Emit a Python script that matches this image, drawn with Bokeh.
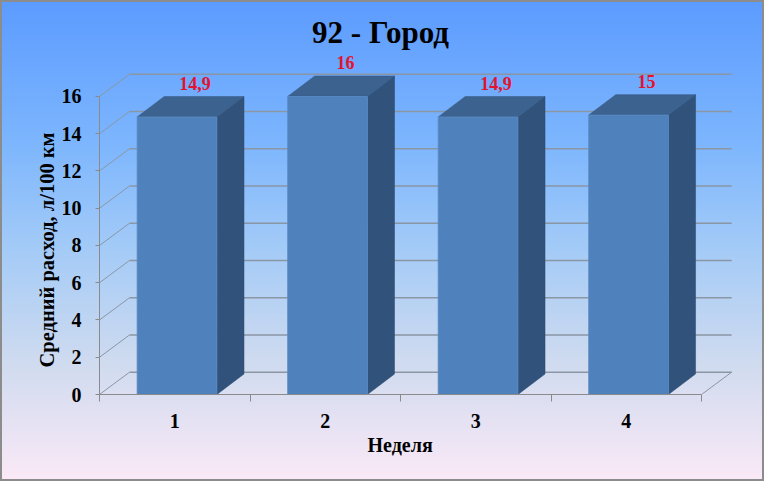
from bokeh.plotting import figure
from bokeh.models import Range1d, FixedTicker, Label, Title
from bokeh.embed import file_html
from bokeh.resources import INLINE

weeks = ["1", "2", "3", "4"]
fuel = [14.9, 16.0, 14.9, 15.0]
y_ticks = [0, 2, 4, 6, 8, 10, 12, 14, 16]

FONT = "Liberation Serif"
GRID = "#8a96a4"

# depth of the 3d effect, in data units
wall_dx, wall_dy = 0.2, 1.2
bar_dx, bar_dy = 0.18, 1.1
bar_w = 0.53

p = figure(width=764, height=481, output_backend="svg", toolbar_location=None,
           title=None, x_range=Range1d(0, 4.365), y_range=Range1d(0, 21.154),
           min_border_left=99, min_border_right=8, min_border_top=0, min_border_bottom=87)
p.border_fill_color = None
p.background_fill_color = None
p.outline_line_color = None
p.xgrid.visible = False
p.ygrid.visible = False
p.styles = {
    "background": "linear-gradient(to bottom, #5c9bff 0%, #7db6fd 30%, #a4cbf7 52%, #d0dbef 76%, #fbe9f7 100%)",
    "box-shadow": "inset 0 0 0 2px #8c8c8c",
}

# walls: back grid lines, left wall diagonals, floor edge
p.segment(x0=[wall_dx] * len(y_ticks), y0=[t + wall_dy for t in y_ticks],
          x1=[4 + wall_dx] * len(y_ticks), y1=[t + wall_dy for t in y_ticks],
          line_color=GRID, line_width=1.5)
p.segment(x0=[0] * len(y_ticks), y0=y_ticks,
          x1=[wall_dx] * len(y_ticks), y1=[t + wall_dy for t in y_ticks],
          line_color=GRID, line_width=1)
p.segment(x0=[4], y0=[0], x1=[4 + wall_dx], y1=[wall_dy], line_color=GRID, line_width=1)

# bars
cx = [i + 0.515 for i in range(len(weeks))]
left = [c - bar_w / 2 for c in cx]
right = [c + bar_w / 2 for c in cx]

side_xs = [[r, r + bar_dx, r + bar_dx, r] for r in right]
side_ys = [[0, bar_dy, v + bar_dy, v] for v in fuel]
top_xs = [[l, l + bar_dx, r + bar_dx, r] for l, r in zip(left, right)]
top_ys = [[v, v + bar_dy, v + bar_dy, v] for v in fuel]

p.patches(side_xs, side_ys, fill_color="#31527a", line_color="#2c4a6f", line_width=0.5)
p.patches(top_xs, top_ys, fill_color="#3c6290", line_color="#36597f", line_width=0.5)
p.quad(left=left, right=right, bottom=0, top=fuel, fill_color="#4f81bd",
       line_color="#5b8cc6", line_width=0.8)

# value labels
labels = [f"{v:g}".replace(".", ",") for v in fuel]
p.text(x=[c + 0.12 for c in cx], y=[v + bar_dy + 0.72 for v in fuel], text=labels,
       text_align="center", text_baseline="middle", text_color="#e3132d",
       text_font=FONT, text_font_style="bold", text_font_size="18px")

p.add_layout(Label(x=1.867, y=19.44, text="92 - Город", text_align="center",
                   text_baseline="middle", text_font=FONT, text_font_style="bold",
                   text_font_size="31px", text_color="black"))

# axis titles, placed along the axis bounds rather than the whole frame
p.add_layout(Title(text="Средний расход, л/100 км", align="left", offset=27, standoff=2,
                   text_font=FONT, text_font_style="bold", text_font_size="20.5px",
                   text_color="black"), "left")
p.add_layout(Title(text="Неделя", align="left", offset=268, standoff=2,
                   text_font=FONT, text_font_style="bold", text_font_size="20px",
                   text_color="black"), "below")

# y axis
ya = p.yaxis[0]
ya.ticker = FixedTicker(ticks=y_ticks)
ya.bounds = (0, 16)
ya.axis_line_color = "#8a8a8a"
ya.major_tick_line_color = "#8a8a8a"
ya.major_tick_out = 4
ya.major_tick_in = 0
ya.minor_tick_line_color = None
ya.major_label_standoff = 14
ya.major_label_text_font = FONT
ya.major_label_text_font_style = "bold"
ya.major_label_text_font_size = "20px"
ya.major_label_text_color = "black"

# x axis
xa = p.xaxis[0]
centers = [i + 0.5 for i in range(len(weeks))]
xa.ticker = FixedTicker(ticks=centers, minor_ticks=list(range(len(weeks) + 1)))
xa.major_label_overrides = {c: w for c, w in zip(centers, weeks)}
xa.bounds = (0, 4)
xa.axis_line_color = "#8a8a8a"
xa.major_tick_line_color = None
xa.major_tick_out = 0
xa.major_tick_in = 0
xa.minor_tick_line_color = "#8a8a8a"
xa.minor_tick_out = 7
xa.minor_tick_in = 0
xa.major_label_standoff = 12
xa.major_label_text_font = FONT
xa.major_label_text_font_style = "bold"
xa.major_label_text_font_size = "20px"
xa.major_label_text_color = "black"

open("out.html", "w").write(file_html(p, INLINE))
